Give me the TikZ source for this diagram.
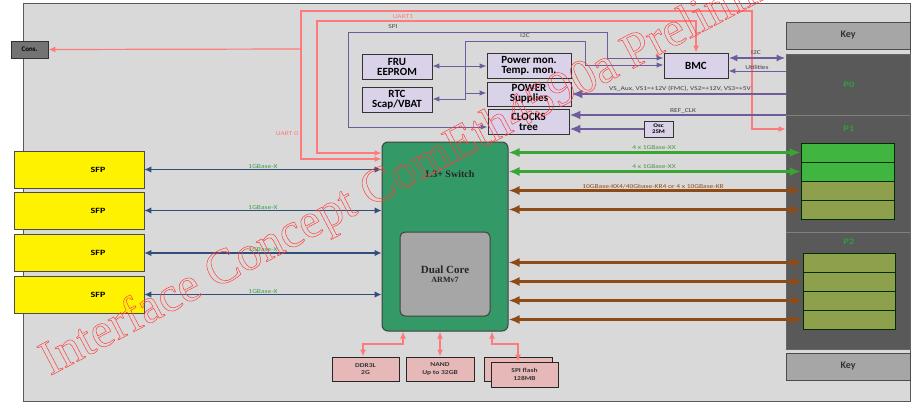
\documentclass[tikz,border=0pt]{standalone}
\usepackage{fontspec}
\setmainfont{Carlito}
\newfontfamily\lblf[FakeStretch=1.25]{Carlito}
\newfontfamily\wmf{Liberation Serif}
\newfontfamily\serf{Liberation Serif}
\usetikzlibrary{arrows.meta,calc}
\definecolor{bgc}{HTML}{D9D9D9}
\definecolor{pinkl}{HTML}{FF7A7A}
\definecolor{purp}{HTML}{6F5C9E}
\definecolor{lav}{HTML}{D9D2E9}
\definecolor{sfpblue}{HTML}{2F4F7A}
\definecolor{lblgreen}{HTML}{3A9E4A}
\definecolor{grn}{HTML}{3AA535}
\definecolor{brn}{HTML}{8E4B16}
\definecolor{swg}{HTML}{339966}
\definecolor{darkc}{HTML}{595959}
\definecolor{keyg}{HTML}{A6A6A6}
\definecolor{slotg}{HTML}{40B640}
\definecolor{slotol}{HTML}{8EA04C}
\definecolor{memp}{HTML}{E6B9B8}
\definecolor{wmred}{HTML}{FF4040}
\definecolor{pgreen}{HTML}{2E9E3E}
\begin{document}
\begin{tikzpicture}[x=1pt,y=-1pt,
  box/.style={draw=black!80,line width=0.9pt,fill=lav,inner sep=0pt,align=center,
    font=\bfseries\fontsize{11}{10}\selectfont},
  memb/.style={draw=black!85,line width=0.9pt,fill=memp,inner sep=0pt,align=center,
    font=\bfseries\lblf\fontsize{6}{7.5}\selectfont,text=black!80},
  sfpb/.style={draw=black!70,line width=0.9pt,fill=yellow,inner sep=0pt,
    minimum width=130pt,minimum height=37pt,font=\bfseries\lblf\fontsize{8}{8}\selectfont},
  slot/.style={draw=black!55!green!40!black,line width=0.7pt,inner sep=0pt,minimum height=19pt},
  lbl/.style={inner sep=0pt,font=\lblf\fontsize{6}{6}\selectfont},
  plbl/.style={inner sep=0pt,font=\bfseries\lblf\fontsize{8.5}{8.5}\selectfont,text=pgreen},
  pk/.style={draw=pinkl,line width=1.2pt,>={Latex[length=7pt,width=6pt]}},
  pl/.style={draw=purp,line width=1pt,>={Latex[length=7pt,width=5.5pt]}},
  plm/.style={draw=purp,line width=1.8pt,>={Latex[length=9pt,width=7pt]}},
  plt/.style={draw=purp,line width=2.8pt,>={Latex[length=11pt,width=9pt]}},
  blu/.style={draw=sfpblue,line width=1.1pt,>={Latex[length=7pt,width=6.5pt]}},
  gra/.style={draw=grn,line width=2.4pt,>={Latex[length=11pt,width=9pt]}},
  bra/.style={draw=brn,line width=2.4pt,>={Latex[length=11pt,width=9pt]}}
]
\useasboundingbox (0,0) rectangle (915,402);
\fill[white] (0,0) rectangle (915,402);
\draw[fill=bgc,draw=black!65,line width=0.8pt] (23,3) rectangle (910,401);

% right connector area
\node[draw=black!70,fill=keyg,line width=0.9pt,minimum width=124pt,minimum height=27pt,inner sep=0pt,
  font=\bfseries\fontsize{10}{10}\selectfont,text=black!80] (keyt) at (848,35.5) {Key};
\node[draw=black!70,fill=keyg,line width=0.9pt,minimum width=124pt,minimum height=27pt,inner sep=0pt,
  font=\bfseries\fontsize{10}{10}\selectfont,text=black!80] (keyb) at (848,366.5) {Key};
\node[fill=darkc,draw=black!60,line width=0.8pt,minimum width=124pt,minimum height=295pt,inner sep=0pt] (conn) at (848,201.5) {};
\draw[black!50,line width=0.8pt] (conn.west |- 0,115) -- (conn.east |- 0,115);
\draw[black!50,line width=0.8pt] (conn.west |- 0,232) -- (conn.east |- 0,232);
\node[plbl] (p0) at (849,85) {P0};
\node[plbl] (p1) at (849,129) {P1};
\node[plbl] (p2) at (849,242) {P2};
\node[slot,fill=slotg,minimum width=93pt] (a1) at (847.5,152.5) {};
\node[slot,fill=slotg,minimum width=93pt] (a2) at (847.5,171.5) {};
\node[slot,fill=slotol,minimum width=93pt] (a3) at (847.5,190.5) {};
\node[slot,fill=slotol,minimum width=93pt] (a4) at (847.5,209.5) {};
\node[slot,fill=slotol,minimum width=92pt] (b1) at (849,262.5) {};
\node[slot,fill=slotol,minimum width=92pt] (b2) at (849,281.5) {};
\node[slot,fill=slotol,minimum width=92pt] (b3) at (849,300.5) {};
\node[slot,fill=slotol,minimum width=92pt] (b4) at (849,319.5) {};

% cons
\node[draw=black!80,fill=black!55,line width=0.8pt,minimum width=37pt,minimum height=17pt,inner sep=0pt,
  font=\bfseries\fontsize{7}{7}\selectfont] (cons) at (29.5,49.5) {Cons.};

% management boxes
\node[box,minimum width=70pt,minimum height=25pt] (fru) at (397,66.5) {FRU\\EEPROM};
\node[box,minimum width=70pt,minimum height=25pt] (rtc) at (397,99.5) {RTC\\Scap/VBAT};
\node[box,minimum width=84pt,minimum height=25pt] (pmon) at (529,65.5) {Power mon.\\Temp. mon.};
\node[box,minimum width=84pt,minimum height=24pt] (pwr) at (529,94) {POWER\\Supplies};
\node[box,minimum width=81pt,minimum height=25pt] (clk) at (528.5,121.5) {CLOCKS\\tree};
\node[box,minimum width=64pt,minimum height=25pt] (bmc) at (696,65.5) {BMC};
\node[box,minimum width=29pt,minimum height=16pt,font=\bfseries\lblf\fontsize{5.5}{6}\selectfont] (osc) at (658.5,129) {Osc\\25M};

% switch
\node[draw=black!75,fill=swg,line width=1pt,rounded corners=6pt,minimum width=126pt,minimum height=189pt,inner sep=0pt] (sw) at (445,236.5) {};
\node[inner sep=0pt,font=\serf\bfseries\fontsize{10}{10}\selectfont,text=black!85] (swt) at (450,174) {L3+ Switch};
\node[draw=black!75,fill=keyg,line width=1pt,rounded corners=5pt,minimum width=90pt,minimum height=84pt,inner sep=0pt,
  align=center,font=\serf\bfseries\fontsize{11}{10}\selectfont,text=black!85] (cpu) at (445,274) {Dual Core\\[-1pt]{\fontsize{8}{8}\selectfont ARMv7}};

% SFP
\node[sfpb] (s1) at (79,169.5) {\hspace*{38pt}SFP};
\node[sfpb] (s2) at (79,210.5) {\hspace*{38pt}SFP};
\node[sfpb] (s3) at (79,253) {\hspace*{38pt}SFP};
\node[sfpb] (s4) at (79,294.5) {\hspace*{38pt}SFP};

% memory
\node[memb,minimum width=67pt,minimum height=24pt] (ddr) at (365.5,369) {DDR3L\\2G};
\node[memb,minimum width=68pt,minimum height=24pt] (nand) at (440,369) {NAND\\Up to 32GB};
\node[memb,minimum width=68pt,minimum height=24pt] (spib) at (518,369) {};
\node[memb,minimum width=67pt,minimum height=25pt] (spif) at (524.5,374.5) {SPI flash\\128MB};

% UART lines
\draw[pk,<->] (sw.west |- 0,159) -- (301,159) -- (301,11) -- (752,11) -- (752,129) -- (conn.west |- 0,129);
\draw[pk,->] (301,49) -- (cons.east);
\draw[pk,<->] (sw.west |- 0,153) -- (317,153) -- (317,21) -- (696,21) -- (bmc.north);
\node[lbl,text=pinkl] (lu1) at (403,16.5) {UART1};
\node[lbl,text=pinkl] (lu0) at (287,134) {UART 0};

% SPI / I2C
\draw[pl,<->] (bmc.west |- 0,58) -- (607,58) -- (607,32) -- (348,32) -- (348,127) -- (clk.west |- 0,127);
\draw[pl,<->] (bmc.west |- 0,65) -- (585,65) -- (585,41) -- (465,41) -- (465,99) -- (rtc.east |- 0,99);
\draw[pl,->] (465,93) -- (pwr.west |- 0,93);
\draw[pl,<->] (fru.east |- 0,66) -- (pmon.west |- 0,66);
\node[lbl,text=black!70] (lspi) at (393,27) {SPI};
\node[lbl,text=black!70] (li2c) at (525,36) {I2C};

% power / clocks
\draw[plt,->] (conn.west |- 0,94) -- (pwr.east |- 0,94);
\draw[plt,->] (conn.west |- 0,115) -- (clk.east |- 0,115);
\draw[plt,->] (osc.west) -- (clk.east |- osc.west);
\draw[plm,<->] (bmc.east |- 0,58) -- (conn.west |- 0,58);
\draw[pl,->] (conn.west |- 0,71) -- (bmc.east |- 0,71);
\node[lbl,text=black!75] (lvs) at (680,89) {VS\_Aux, VS1=+12V (FMC), VS2=+12V, VS3=+5V};
\node[lbl,text=black!75] (lref) at (683,111) {REF\_CLK};
\node[lbl,text=black!75] (li2c2) at (756,53) {I2C};
\node[lbl,text=black!75] (lut) at (757,67) {Utilities};

% SFP links
\foreach \s in {s1,s2,s3,s4}{
  \draw[blu,<->] (\s.east) -- (sw.west |- \s.east);
  \node[lbl,text=lblgreen,anchor=south] at ($(\s.east)!0.5!(sw.west |- \s.east)+(0,-1)$) {1GBase-X};
}

% switch to P1/P2
\draw[gra,<->] (sw.east |- a1.west) -- (a1.west);
\draw[gra,<->] (sw.east |- a2.west) -- (a2.west);
\draw[bra,<->] (sw.east |- a3.west) -- (a3.west);
\draw[bra,<->] (sw.east |- a4.west) -- (a4.west);
\draw[bra,<->] (sw.east |- b1.west) -- (b1.west);
\draw[bra,<->] (sw.east |- b2.west) -- (b2.west);
\draw[bra,<->] (sw.east |- b3.west) -- (b3.west);
\draw[bra,<->] (sw.east |- b4.west) -- (b4.west);
\node[lbl,text=green!40!black!70] (lg1) at (654,148) {4 x 1GBase-XX};
\node[lbl,text=green!40!black!70] (lg2) at (654,167) {4 x 1GBase-XX};
\node[lbl,text=brn] (lbr) at (653,187) {10GBase-KX4/40Gbase-KR4 or 4 x 10GBase-KR};

% memory links
\draw[pk,<->] (sw.south -| 403,0) -- (403,344) -- (363,344) -- (ddr.north -| 363,0);
\draw[pk,<->] (sw.south -| nand.north) -- (nand.north);
\draw[pk,<->] (sw.south -| 492,0) -- (492,344) -- (518,344) -- (spif.north -| 518,0);

% watermark
\begin{scope}
\clip (0,0) rectangle (915,402);
\node[anchor=base west,rotate=27.8,inner sep=0pt,text=wmred,font=\wmf\fontsize{49}{49}\selectfont] (wm) at (50,376)
  {\special{pdf:literal direct 1 Tr 0.5 w}Interface Concept ComEth4590a Preliminary\special{pdf:literal direct 0 Tr}};
\end{scope}
\end{tikzpicture}
\end{document}
